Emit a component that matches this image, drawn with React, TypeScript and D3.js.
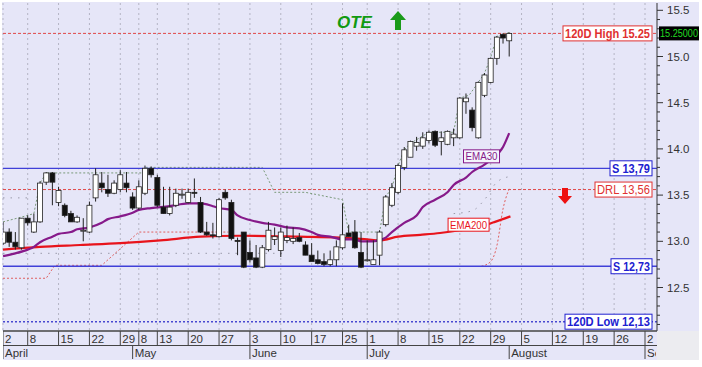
import React from 'react';
import * as d3 from 'd3';

// candles: open, high, low, close (one per trading day, index 0 = 2 April)
const opens = [12.98, 13.10, 12.99, 12.93, 13.25, 13.10, 13.21, 13.64, 13.74, 13.42, 13.39, 13.30, 13.21, 13.12, 13.10, 13.47, 13.63, 13.56, 13.52, 13.56, 13.63,
  13.48, 13.36, 13.52, 13.79, 13.69, 13.37, 13.30, 13.39, 13.50, 13.42, 13.53, 13.42, 13.10, 13.07, 13.05, 13.53, 13.42, 13.01, 13.10, 12.88,
  12.82, 12.72, 12.91, 13.02, 12.90, 13.01, 13.00, 13.04, 12.96, 12.85, 12.80, 12.78, 12.75, 12.80, 12.93, 13.09, 13.10, 12.88, 12.80, 12.75,
  12.85, 13.18, 13.39, 13.53, 13.80, 13.91, 14.03, 14.03, 14.09, 14.19, 14.08, 14.05, 14.12, 14.12, 14.51, 14.42, 14.12, 14.58, 14.72, 14.98, 15.24, 15.17];
const highs = [13.21, 13.14, 13.10, 13.25, 13.28, 13.30, 13.65, 13.75, 13.75, 13.59, 13.41, 13.33, 13.28, 13.25, 13.43, 13.79, 13.75, 13.72, 13.66, 13.77, 13.75,
  13.53, 13.66, 13.82, 13.81, 13.72, 13.59, 13.59, 13.57, 13.57, 13.57, 13.68, 13.48, 13.21, 13.20, 13.47, 13.56, 13.45, 13.04, 13.10, 13.01,
  12.96, 12.96, 13.21, 13.15, 13.15, 13.17, 13.15, 13.09, 13.00, 12.98, 12.90, 12.87, 12.90, 13.01, 13.41, 13.18, 13.23, 13.10, 13.01, 13.01,
  13.12, 13.50, 13.63, 13.84, 14.02, 14.09, 14.13, 14.18, 14.20, 14.20, 14.19, 14.20, 14.22, 14.56, 14.60, 14.45, 14.73, 14.82, 14.99, 15.22, 15.25, 15.26];
const lows = [12.96, 12.94, 12.91, 12.91, 13.17, 13.09, 13.20, 13.61, 13.39, 13.38, 13.26, 13.21, 13.20, 13.00, 13.09, 13.43, 13.53, 13.48, 13.51, 13.53, 13.53,
  13.34, 13.34, 13.50, 13.69, 13.37, 13.30, 13.28, 13.37, 13.46, 13.41, 13.47, 13.09, 13.06, 13.03, 13.04, 13.45, 13.01, 12.85, 12.71, 12.77,
  12.71, 12.71, 12.89, 12.96, 12.83, 12.98, 12.97, 12.99, 12.85, 12.80, 12.75, 12.73, 12.73, 12.73, 12.91, 13.05, 12.92, 12.71, 12.78, 12.77,
  12.74, 13.16, 13.37, 13.51, 13.77, 13.91, 13.98, 14.00, 14.06, 14.02, 13.93, 14.04, 14.03, 14.11, 14.38, 14.19, 14.11, 14.56, 14.71, 14.91, 15.14, 15.00];
const closes = [13.10, 12.99, 12.94, 13.25, 13.20, 13.21, 13.63, 13.74, 13.64, 13.55, 13.28, 13.21, 13.26, 13.12, 13.39, 13.72, 13.58, 13.52, 13.63, 13.72, 13.58,
  13.36, 13.59, 13.79, 13.72, 13.39, 13.30, 13.37, 13.52, 13.51, 13.53, 13.52, 13.10, 13.07, 13.06, 13.45, 13.47, 13.03, 13.00, 12.72, 12.80,
  12.72, 12.93, 13.12, 13.05, 13.10, 13.04, 13.03, 13.00, 12.85, 12.78, 12.76, 12.75, 12.80, 12.94, 13.07, 13.05, 12.93, 12.72, 12.80, 12.80,
  13.10, 13.48, 13.58, 13.82, 13.99, 14.08, 14.07, 14.12, 14.18, 14.04, 14.12, 14.19, 14.16, 14.55, 14.55, 14.23, 14.72, 14.80, 14.98, 15.21, 15.20, 15.25];

// EMA lines: [day index, value]
const ema30 = [[0, 12.84], [2, 12.87], [4, 12.91], [5, 12.94], [6, 12.99], [8, 13.05], [9, 13.08], [11, 13.10], [12, 13.13], [14, 13.15], [16, 13.20],
  [17, 13.24], [19, 13.27], [21, 13.31], [22, 13.34], [24, 13.36], [27, 13.38], [30, 13.41], [32, 13.41], [34, 13.38], [35, 13.36], [37, 13.34],
  [38, 13.28], [40, 13.23], [42, 13.20], [44, 13.18], [46, 13.15], [48, 13.14], [50, 13.10], [51, 13.07], [53, 13.05], [55, 13.02], [57, 13.02],
  [58, 13.00], [60, 13.00], [62, 13.04], [63, 13.10], [65, 13.20], [67, 13.28], [68, 13.37], [70, 13.45], [72, 13.53], [73, 13.61], [75, 13.69],
  [76, 13.75], [78, 13.83], [79, 13.88], [81, 14.02], [82, 14.17]];
const ema200 = [[0, 12.91], [6, 12.94], [12.5, 12.96], [19, 12.98], [25.5, 13.01], [32, 13.05], [38.4, 13.06], [48, 13.05], [54.6, 13.04], [59, 13.02],
  [61, 13.01], [64, 13.05], [67.6, 13.07], [70.8, 13.09], [74, 13.12], [77.3, 13.16], [79.7, 13.21], [82.2, 13.27]];

// trailing stop lines
const upperStop = [[0, 13.21], [4, 13.28], [5, 13.30], [6, 13.63], [7, 13.74], [23, 13.74], [23, 13.80], [42, 13.80], [44, 13.53], [49, 13.53],
  [55, 13.45], [56, 13.10], [61, 13.10], [62, 13.48], [63, 13.58], [64, 13.82], [65, 13.99], [66, 14.06], [69, 14.18], [73, 14.18], [74, 14.55],
  [75.5, 14.58], [77, 14.72], [78, 14.82], [79, 14.99], [80, 15.22], [82, 15.26]];
const lowerStop = [[0, 12.60], [7, 12.60], [8.4, 12.74], [16, 12.74], [22, 13.10], [36.5, 13.10]];
const lowerStop2 = [[77.5, 12.73], [79, 12.78], [80, 12.95], [81, 13.35], [82, 13.57]];
// sparse grey channel dots
const channelLow = [[0, 12.87], [46, 12.87]];
const channelUp = [[0, 13.47], [4, 13.47]];
const channelUp2 = [[73, 13.30], [76, 13.33], [78, 13.45], [80, 13.64], [82, 13.70]];

const levels = { high120: 15.25, s1: 13.79, drl: 13.56, s2: 12.73, low120: 12.13 };

const weekIdx = [0, 4, 9, 14, 19, 22, 25, 30, 35, 40, 45, 50, 55, 59, 64, 69, 74, 79, 84, 89, 94, 99, 104];
const weekLabels = ['2', '8', '15', '22', '29', '8', '13', '20', '27', '3', '10', '17', '25', '1', '8', '15', '22', '29', '5', '12', '19', '26', '2'];
const monthIdx = [0, 21, 40, 59, 82, 104];
const monthLabels = ['April', 'May', 'June', 'July', 'August', 'September'];

const W = 702, H = 367;
const plotL = 3, plotR = 657, plotT = 3, plotB = 331;

const App = () => {
  const x = d3.scaleLinear().domain([0, 104]).range([3, 645]);
  const y = d3.scaleLinear().domain([12.0, 15.5]).range([333.7, 10.3]);
  const line = d3.line<number[]>().x(d => x(d[0])).y(d => y(d[1]));
  const smooth = d3.line<number[]>().x(d => x(d[0])).y(d => y(d[1])).curve(d3.curveMonotoneX);
  const majors = d3.range(12.5, 15.51, 0.5);
  const minors = d3.range(12.1, 15.5, 0.1).filter(v => Math.abs(v * 2 - Math.round(v * 2)) > 0.01);
  const font = 'Arial, "Liberation Sans", sans-serif';
  const fmt = (v: number) => v.toFixed(2).replace('.', ',');

  const label = (text: string, v: number, color: string, bold: boolean, w: number) => (
    <g>
      <rect x={652 - w} y={y(v) - 7.5} width={w} height={15} fill="#fff" stroke={color} strokeWidth={1} />
      <text x={652 - w + 2} y={y(v) + 4.5} fill={color} fontSize={12.5} fontWeight={bold ? 'bold' : 'normal'}
        textLength={w - 4} lengthAdjust="spacingAndGlyphs">{text}</text>
    </g>
  );

  return (
    <div style={{ position: 'fixed', left: 0, top: 0 }}>
      <svg width={W} height={H} style={{ display: 'block', fontFamily: font }}>
        <defs>
          <clipPath id="axclip"><rect x={plotL} y={plotB} width={plotR - plotL - 1} height={30} /></clipPath>
          <clipPath id="plotclip"><rect x={plotL} y={plotT} width={plotR - plotL} height={plotB - plotT} /></clipPath>
        </defs>
        <rect x={0} y={0} width={W} height={H} fill="#fff" />
        <rect x={2} y={2} width={697} height={plotB - 2} fill="#e6e6f8" />
        <rect x={plotR} y={plotB} width={42} height={29} fill="#ececf0" />
        <rect x={plotL} y={plotB} width={plotR - plotL} height={29} fill="#e6e6f8" />

        {/* vertical grid */}
        {weekIdx.map((d, i) => (
          <line key={'g' + i} x1={x(d)} x2={x(d)} y1={plotT} y2={plotB} stroke="#b4b4c4" strokeDasharray="2,3" />
        ))}

        <g clipPath="url(#plotclip)">
          {/* level lines */}
          <line x1={plotL} x2={plotR} y1={y(levels.high120)} y2={y(levels.high120)} stroke="#e04848" strokeDasharray="3,2" />
          <line x1={plotL} x2={plotR} y1={y(levels.drl)} y2={y(levels.drl)} stroke="#e04848" strokeDasharray="3,2" />
          <line x1={plotL} x2={plotR} y1={y(levels.low120)} y2={y(levels.low120)} stroke="#4848d0" strokeDasharray="2,2" strokeWidth={1.5} />

          {/* channel dots and trailing stops */}
          <path d={line(channelLow) || ''} fill="none" stroke="#9a9aaa" strokeDasharray="1.5,6" />
          <path d={line(channelUp) || ''} fill="none" stroke="#9a9aaa" strokeDasharray="1.5,6" />
          <path d={smooth(channelUp2) || ''} fill="none" stroke="#9a9aaa" strokeDasharray="1.5,6" />
          <path d={line(upperStop) || ''} fill="none" stroke="#7a9a7a" strokeDasharray="2,2" />
          <path d={line(lowerStop) || ''} fill="none" stroke="#e06060" strokeDasharray="2,2" />
          <path d={smooth(lowerStop2) || ''} fill="none" stroke="#e06060" strokeDasharray="2,2" />

          <line x1={plotL} x2={plotR} y1={y(levels.s1)} y2={y(levels.s1)} stroke="#4040d8" strokeWidth={1.3} />
          <line x1={plotL} x2={plotR} y1={y(levels.s2)} y2={y(levels.s2)} stroke="#4040d8" strokeWidth={1.3} />

          {/* EMAs */}
          <path d={smooth(ema200) || ''} fill="none" stroke="#e8141c" strokeWidth={2.2} />
          <path d={smooth(ema30) || ''} fill="none" stroke="#861a8a" strokeWidth={2.2} />

          {/* candles */}
          {opens.map((o, i) => {
            const c = closes[i];
            const up = c >= o;
            const top = y(Math.max(o, c));
            const bh = Math.max(1, Math.abs(y(o) - y(c)));
            return (
              <g key={'c' + i}>
                <line x1={x(i)} x2={x(i)} y1={y(highs[i])} y2={y(lows[i])} stroke="#222" />
                <rect x={x(i) - 2.5} y={top} width={5} height={bh} fill={up ? '#fff' : '#111'} stroke="#222" strokeWidth={0.8} />
              </g>
            );
          })}
        </g>

        {/* EMA labels */}
        <rect x={x(74.6)} y={y(13.99)} width={36} height={13} fill="#f4f4fc" stroke="#861a8a" />
        <text x={x(74.6) + 2} y={y(13.99) + 10.5} fontSize={11.5} fill="#861a8a" textLength={32} lengthAdjust="spacingAndGlyphs">EMA30</text>
        <rect x={x(72.1)} y={y(13.25)} width={41} height={13} fill="#fff" stroke="#e8141c" />
        <text x={x(72.1) + 2} y={y(13.25) + 10.5} fontSize={11.5} fill="#e8141c" textLength={37} lengthAdjust="spacingAndGlyphs">EMA200</text>

        {/* level labels */}
        {label(`120D High ${levels.high120.toFixed(2)}`, levels.high120, '#e03030', true, 89)}
        {label(`S ${fmt(levels.s1)}`, levels.s1, '#2020d0', true, 42)}
        {label(`DRL ${fmt(levels.drl)}`, levels.drl, '#e03030', false, 57)}
        {label(`S ${fmt(levels.s2)}`, levels.s2, '#2020d0', true, 41)}
        {label(`120D Low ${fmt(levels.low120)}`, levels.low120, '#2020d0', true, 87)}

        {/* OTE signal */}
        <text x={337} y={28} fill="#119a11" fontSize={17} fontWeight="bold" fontStyle="italic">OTE</text>
        <path d="M398,11 L406,20 L401,20 L401,30 L395,30 L395,20 L390,20 Z" fill="#1a9a1a" />
        {/* down arrow */}
        <path d="M562,188 L568,188 L568,196 L572,196 L565,204 L558,196 L562,196 Z" fill="#ee1111" />

        {/* right axis */}
        <line x1={plotR} x2={plotR} y1={plotT} y2={plotB} stroke="#333" />
        {majors.map(v => (
          <g key={'m' + v}>
            <line x1={plotR} x2={plotR + 6} y1={y(v)} y2={y(v)} stroke="#333" />
            <text x={667} y={y(v) + 4} fontSize={11.5} fill="#333">{v.toFixed(1)}</text>
          </g>
        ))}
        {minors.map(v => (
          <line key={'n' + v} x1={plotR} x2={plotR + 3} y1={y(v)} y2={y(v)} stroke="#333" />
        ))}
        <rect x={659} y={y(levels.high120) - 7} width={40} height={14} fill="#000" />
        <text x={660} y={y(levels.high120) + 4} fontSize={10} fill="#22dd22" textLength={38} lengthAdjust="spacingAndGlyphs">{levels.high120.toFixed(5)}</text>

        {/* x axis */}
        <line x1={plotL} x2={plotR} y1={plotB} y2={plotB} stroke="#444" strokeWidth={1.5} />
        <line x1={plotL} x2={plotR} y1={345.5} y2={345.5} stroke="#444" />
        <g clipPath="url(#axclip)">
          {weekIdx.map((d, i) => (
            <g key={'w' + i}>
              <line x1={x(d)} x2={x(d)} y1={plotB} y2={345.5} stroke="#444" />
              <text x={x(d) + 2} y={343} fontSize={11.5} fill="#333">{weekLabels[i]}</text>
            </g>
          ))}
          {monthIdx.map((d, i) => (
            <g key={'mo' + i}>
              <line x1={x(d)} x2={x(d)} y1={345.5} y2={359} stroke="#444" />
              <text x={x(d) + 2} y={357} fontSize={11.5} fill="#333">{monthLabels[i]}</text>
            </g>
          ))}
        </g>
      </svg>
    </div>
  );
};

export default App;
